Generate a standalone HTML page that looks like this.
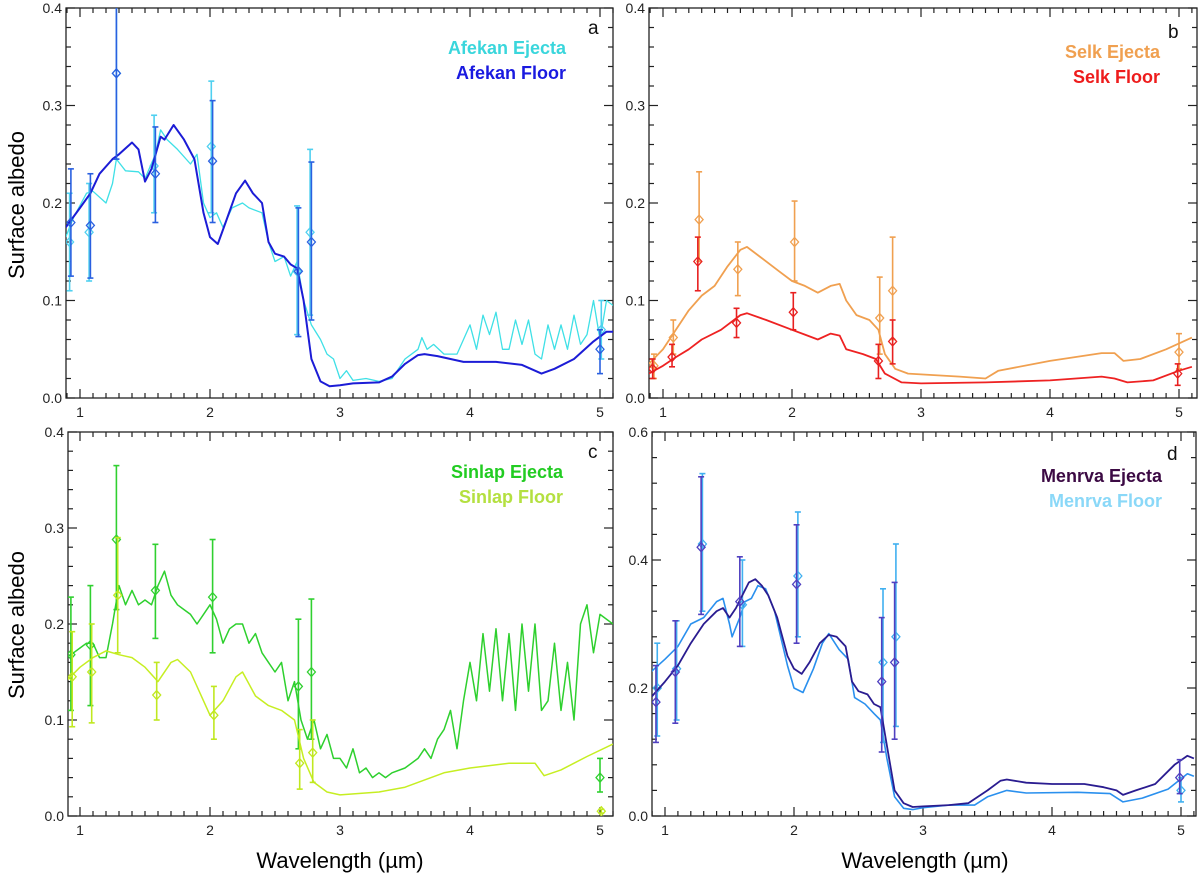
<!DOCTYPE html>
<html><head><meta charset="utf-8"><style>
html,body{margin:0;padding:0;background:#fff;}
svg{display:block;font-family:"Liberation Sans",sans-serif;}
</style></head><body>
<svg id="fig" width="1200" height="882" viewBox="0 0 1200 882" xmlns="http://www.w3.org/2000/svg">
<text x="24" y="205" font-size="22" text-anchor="middle" transform="rotate(-90 24 205)">Surface albedo</text>
<text x="24" y="625" font-size="22" text-anchor="middle" transform="rotate(-90 24 625)">Surface albedo</text>
<text x="340" y="868" font-size="22" text-anchor="middle">Wavelength (µm)</text>
<text x="925" y="868" font-size="22" text-anchor="middle">Wavelength (µm)</text>
</svg>
<script>
// ---- Panel a data ----
const aFloorWl=[0.89,1.0,1.08,1.15,1.25,1.3,1.4,1.45,1.5,1.55,1.62,1.65,1.72,1.8,1.88,1.95,2.0,2.06,2.12,2.2,2.27,2.33,2.4,2.45,2.5,2.57,2.62,2.67,2.72,2.78,2.85,2.92,3.0,3.1,3.3,3.4,3.5,3.6,3.65,3.75,3.95,4.2,4.4,4.5,4.55,4.65,4.8,4.95,5.05,5.1];
const aFloorVal=[0.175,0.195,0.21,0.23,0.245,0.25,0.262,0.255,0.222,0.235,0.268,0.265,0.28,0.265,0.245,0.19,0.165,0.158,0.18,0.21,0.223,0.21,0.2,0.16,0.148,0.145,0.137,0.133,0.1,0.04,0.017,0.012,0.013,0.015,0.016,0.022,0.035,0.044,0.045,0.043,0.037,0.037,0.034,0.028,0.025,0.03,0.04,0.058,0.068,0.068];
const aEjWl=[0.89,0.95,1.05,1.1,1.2,1.25,1.28,1.35,1.45,1.5,1.58,1.62,1.67,1.75,1.85,1.9,1.95,2.0,2.05,2.1,2.17,2.25,2.3,2.4,2.45,2.5,2.57,2.62,2.67,2.72,2.78,2.85,2.9,2.95,3.0,3.05,3.1,3.2,3.3,3.4,3.5,3.6,3.63,3.67,3.72,3.8,3.9,3.95,4.0,4.05,4.1,4.15,4.2,4.25,4.3,4.35,4.4,4.45,4.5,4.55,4.6,4.65,4.7,4.75,4.8,4.85,4.9,4.95,5.0,5.05,5.1];
const aEjVal=[0.165,0.185,0.21,0.212,0.2,0.22,0.245,0.233,0.232,0.225,0.25,0.275,0.265,0.255,0.24,0.25,0.2,0.185,0.19,0.175,0.195,0.2,0.195,0.19,0.16,0.14,0.145,0.125,0.14,0.1,0.075,0.06,0.045,0.04,0.02,0.028,0.018,0.02,0.017,0.02,0.04,0.05,0.062,0.05,0.055,0.045,0.045,0.06,0.075,0.05,0.085,0.065,0.088,0.05,0.05,0.08,0.055,0.08,0.045,0.04,0.075,0.05,0.075,0.05,0.085,0.055,0.065,0.1,0.06,0.1,0.095];
const aFloorErrWl=[0.93,1.08,1.28,1.58,2.02,2.68,2.78,5.0];
const aFloorErrVal=[0.18,0.177,0.333,0.23,0.243,0.13,0.16,0.05];
const aFloorErrLo=[0.125,0.123,0.245,0.18,0.18,0.063,0.08,0.025];
const aFloorErrHi=[0.235,0.23,0.42,0.278,0.305,0.195,0.242,0.07];
const aEjErrWl=[0.92,1.07,1.28,1.57,2.01,2.67,2.77,5.01];
const aEjErrVal=[0.16,0.17,0.333,0.238,0.258,0.13,0.17,0.07];
const aEjErrLo=[0.11,0.12,0.245,0.19,0.19,0.065,0.085,0.04];
const aEjErrHi=[0.21,0.22,0.42,0.29,0.325,0.197,0.255,0.1];
// ---- Panel b data ----
const bEjWl=[0.89,1.0,1.1,1.2,1.3,1.4,1.5,1.6,1.65,1.75,1.9,2.0,2.1,2.2,2.3,2.37,2.42,2.5,2.6,2.67,2.72,2.8,2.9,3.3,3.5,3.6,4.0,4.4,4.5,4.57,4.7,4.9,5.1];
const bEjVal=[0.035,0.05,0.07,0.09,0.105,0.115,0.135,0.152,0.155,0.145,0.13,0.12,0.115,0.108,0.115,0.117,0.1,0.085,0.08,0.07,0.045,0.03,0.025,0.022,0.02,0.028,0.038,0.046,0.046,0.038,0.04,0.05,0.062];
const bFloorWl=[0.89,1.0,1.1,1.2,1.3,1.45,1.6,1.65,1.8,2.0,2.1,2.2,2.3,2.37,2.42,2.55,2.65,2.72,2.85,3.0,3.5,4.0,4.4,4.5,4.6,4.8,5.0,5.1];
const bFloorVal=[0.025,0.033,0.042,0.05,0.06,0.07,0.085,0.087,0.08,0.07,0.065,0.06,0.066,0.064,0.05,0.045,0.04,0.025,0.016,0.015,0.016,0.018,0.022,0.02,0.016,0.018,0.028,0.032];
const bEjErrWl=[0.93,1.08,1.28,1.58,2.02,2.68,2.78,5.0];
const bEjErrVal=[0.033,0.062,0.183,0.132,0.16,0.082,0.11,0.047];
const bEjErrLo=[0.02,0.045,0.14,0.105,0.12,0.045,0.06,0.03];
const bEjErrHi=[0.045,0.08,0.232,0.16,0.202,0.124,0.165,0.066];
const bFloorErrWl=[0.92,1.07,1.27,1.57,2.01,2.67,2.78,4.99];
const bFloorErrVal=[0.03,0.042,0.14,0.077,0.088,0.038,0.058,0.025];
const bFloorErrLo=[0.02,0.032,0.11,0.062,0.07,0.02,0.035,0.013];
const bFloorErrHi=[0.04,0.055,0.165,0.092,0.108,0.055,0.08,0.035];
// ---- Panel c data ----
const cEjWl=[0.89,0.95,1.0,1.05,1.1,1.15,1.2,1.25,1.3,1.35,1.4,1.45,1.5,1.55,1.6,1.65,1.7,1.75,1.8,1.85,1.9,1.95,2.0,2.05,2.1,2.15,2.2,2.25,2.3,2.35,2.4,2.45,2.5,2.55,2.6,2.65,2.7,2.75,2.8,2.85,2.9,2.95,3.0,3.05,3.1,3.15,3.2,3.25,3.3,3.35,3.4,3.5,3.6,3.65,3.7,3.75,3.8,3.85,3.9,3.95,4.0,4.05,4.1,4.15,4.2,4.25,4.3,4.35,4.4,4.45,4.5,4.55,4.6,4.65,4.7,4.75,4.8,4.85,4.9,4.95,5.0,5.1];
const cEjVal=[0.165,0.17,0.175,0.18,0.18,0.165,0.165,0.2,0.24,0.22,0.235,0.22,0.225,0.22,0.24,0.255,0.23,0.22,0.215,0.21,0.2,0.21,0.22,0.205,0.18,0.195,0.2,0.2,0.18,0.19,0.17,0.16,0.15,0.16,0.12,0.14,0.1,0.08,0.1,0.07,0.085,0.06,0.06,0.05,0.07,0.045,0.05,0.04,0.045,0.04,0.045,0.05,0.06,0.07,0.06,0.08,0.09,0.11,0.07,0.12,0.16,0.12,0.19,0.13,0.195,0.12,0.19,0.11,0.2,0.13,0.2,0.11,0.12,0.18,0.11,0.16,0.1,0.2,0.22,0.17,0.21,0.2];
const cFloorWl=[0.89,1.0,1.1,1.2,1.3,1.4,1.5,1.6,1.7,1.75,1.85,1.95,2.0,2.1,2.2,2.25,2.35,2.45,2.55,2.65,2.72,2.8,2.9,3.0,3.3,3.5,3.8,4.0,4.3,4.5,4.57,4.7,4.9,5.1];
const cFloorVal=[0.14,0.155,0.165,0.172,0.168,0.165,0.155,0.14,0.16,0.163,0.15,0.12,0.105,0.12,0.145,0.15,0.125,0.115,0.11,0.1,0.06,0.035,0.025,0.022,0.025,0.03,0.045,0.05,0.055,0.055,0.042,0.048,0.062,0.075];
const cEjErrWl=[0.93,1.08,1.28,1.58,2.02,2.68,2.78,5.0];
const cEjErrVal=[0.168,0.178,0.288,0.235,0.228,0.135,0.15,0.04];
const cEjErrLo=[0.11,0.115,0.215,0.185,0.17,0.07,0.08,0.025];
const cEjErrHi=[0.228,0.24,0.365,0.283,0.288,0.205,0.226,0.06];
const cFloorErrWl=[0.94,1.09,1.29,1.59,2.03,2.69,2.79,5.01];
const cFloorErrVal=[0.145,0.15,0.23,0.126,0.105,0.055,0.066,0.005];
const cFloorErrLo=[0.093,0.097,0.17,0.1,0.08,0.028,0.035,0.003];
const cFloorErrHi=[0.192,0.2,0.29,0.16,0.135,0.09,0.1,0.007];
// ---- Panel d data ----
const dEjWl=[0.89,1.0,1.1,1.2,1.3,1.4,1.45,1.5,1.55,1.6,1.65,1.7,1.75,1.8,1.87,1.95,2.0,2.06,2.12,2.2,2.27,2.33,2.4,2.45,2.5,2.57,2.62,2.67,2.72,2.78,2.85,2.92,3.0,3.2,3.35,3.5,3.6,3.65,3.8,4.0,4.25,4.4,4.5,4.55,4.65,4.8,4.95,5.05,5.1];
const dEjVal=[0.185,0.21,0.235,0.27,0.3,0.32,0.325,0.31,0.325,0.345,0.365,0.37,0.36,0.345,0.31,0.25,0.23,0.222,0.24,0.27,0.283,0.28,0.265,0.21,0.195,0.19,0.175,0.17,0.11,0.04,0.02,0.014,0.015,0.017,0.02,0.04,0.055,0.057,0.052,0.05,0.05,0.045,0.04,0.033,0.04,0.05,0.08,0.094,0.09];
const dFloorWl=[0.89,1.0,1.1,1.2,1.3,1.4,1.45,1.5,1.52,1.58,1.62,1.67,1.72,1.78,1.85,1.95,2.0,2.07,2.15,2.22,2.27,2.35,2.42,2.47,2.55,2.62,2.67,2.72,2.78,2.85,2.92,3.0,3.2,3.4,3.5,3.65,3.8,4.2,4.45,4.55,4.7,4.9,5.05,5.1];
const dFloorVal=[0.225,0.245,0.265,0.3,0.31,0.335,0.34,0.3,0.28,0.31,0.335,0.34,0.36,0.355,0.32,0.235,0.2,0.193,0.23,0.27,0.285,0.26,0.245,0.185,0.175,0.16,0.15,0.09,0.03,0.012,0.01,0.013,0.017,0.017,0.03,0.04,0.036,0.037,0.035,0.022,0.028,0.042,0.066,0.062];
const dEjErrWl=[0.93,1.08,1.28,1.58,2.02,2.68,2.78,4.99];
const dEjErrVal=[0.178,0.225,0.42,0.335,0.362,0.21,0.24,0.06];
const dEjErrLo=[0.115,0.145,0.315,0.265,0.27,0.1,0.12,0.035];
const dEjErrHi=[0.235,0.305,0.53,0.405,0.455,0.31,0.365,0.088];
const dFloorErrWl=[0.94,1.09,1.29,1.6,2.03,2.69,2.79,5.0];
const dFloorErrVal=[0.2,0.23,0.425,0.33,0.375,0.24,0.28,0.04];
const dFloorErrLo=[0.125,0.15,0.32,0.265,0.28,0.115,0.14,0.022];
const dFloorErrHi=[0.27,0.305,0.535,0.4,0.475,0.355,0.425,0.06];
const xTickLabels=["1","2","3","4","5"];
const yTicksA=["0.0","0.1","0.2","0.3","0.4"];
const yTicksD=["0.0","0.2","0.4","0.6"];

const NS="http://www.w3.org/2000/svg";
const svg=document.getElementById('fig');
function mk(tag,attrs,parent){const e=document.createElementNS(NS,tag);for(const k in attrs)e.setAttribute(k,attrs[k]);(parent||svg).appendChild(e);return e;}

function panel(cfg){
  const g=mk('g',{});
  
  
  const L=cfg.l,R=cfg.r,T=cfg.t,B=cfg.b;
  const x1px=cfg.x1, sc=cfg.sc;
  const X=w=>x1px+(w-1)*sc;
  const Y=v=>B-(v/cfg.ymax)*(B-T);
  const clip='clip-'+cfg.id;
  const cp=mk('clipPath',{id:clip},g);mk('rect',{x:L,y:T,width:R-L,height:B-T},cp);
  // frame
  const fr=mk('rect',{x:L,y:T,width:R-L,height:B-T,fill:'none',stroke:'#222','stroke-width':1.3},g);
  
  
  // x ticks
  for(let k=9;k<=51;k++){const w=k/10;const px=X(w);if(px<L||px>R)continue;const maj=(k%10===0);const len=maj?9:5;
    mk('line',{x1:px,y1:B,x2:px,y2:B-len,stroke:'#222','stroke-width':1.2},g);
    mk('line',{x1:px,y1:T,x2:px,y2:T+len,stroke:'#222','stroke-width':1.2},g);}
  xTickLabels.forEach((s,i)=>{const t=mk('text',{x:X(i+1),y:B+19,'font-size':14,'text-anchor':'middle',fill:'#222'},g);t.textContent=s;
    
    });
  // y ticks
  const nMinor=Math.round(cfg.ymax/cfg.minor);
  for(let k=0;k<=nMinor;k++){const v=k*cfg.minor;const py=Y(v);const maj=Math.abs((v/cfg.major)-Math.round(v/cfg.major))<1e-6;const len=maj?9:5;
    mk('line',{x1:L,y1:py,x2:L+len,y2:py,stroke:'#222','stroke-width':1.2},g);
    mk('line',{x1:R,y1:py,x2:R-len,y2:py,stroke:'#222','stroke-width':1.2},g);}
  cfg.yLabels.forEach((s,i)=>{const t=mk('text',{x:L-4,y:Y(i*cfg.major)+5,'font-size':14,'text-anchor':'end',fill:'#222'},g);t.textContent=s;
    
    });
  // series
  cfg.series.forEach(s=>{
    const d=s.wl.map((w,i)=>(i?'L':'M')+X(w).toFixed(1)+' '+Y(s.val[i]).toFixed(1)).join(' ');
    const p=mk('path',{d:d,fill:'none',stroke:s.color,'stroke-width':s.sw||1.6,'clip-path':'url(#'+clip+')','stroke-linejoin':'round'},g);
    
    
    s.ew.forEach((w,i)=>{const px=X(w);const eg=mk('g',{'clip-path':'url(#'+clip+')',stroke:s.ecolor,'stroke-width':1.6,fill:'none'},g);
      
      
      mk('line',{x1:px,y1:Y(s.elo[i]),x2:px,y2:Y(s.ehi[i])},eg);
      mk('line',{x1:px-3,y1:Y(s.elo[i]),x2:px+3,y2:Y(s.elo[i])},eg);
      mk('line',{x1:px-3,y1:Y(s.ehi[i]),x2:px+3,y2:Y(s.ehi[i])},eg);
      const py=Y(s.ev[i]);
      mk('path',{d:`M${px} ${py-4.5} L${px+4} ${py} L${px} ${py+4.5} L${px-4} ${py} Z`,'stroke-width':1.3},eg);});
  });
  // legend
  cfg.legend.forEach((l,i)=>{const t=mk('text',{x:cfg.legX,y:cfg.legY+i*25,'font-size':18,'font-weight':'bold','text-anchor':'end',fill:l[1]},g);t.textContent=l[0];
    
    });
  const lt=mk('text',{x:cfg.letX,y:cfg.letY,'font-size':19,fill:'#111'},g);lt.textContent=cfg.letter;
  
  
}

panel({id:'a',name:'panel-a-afekan',l:66,r:613,t:8,b:398,x1:80,sc:130,ymax:0.4,major:0.1,minor:0.02,yLabels:yTicksA,
  series:[
    {name:'afekan-ejecta',color:'#3fe0e6',wl:aEjWl,val:aEjVal,ecolor:'#4fd0f0',ew:aEjErrWl,ev:aEjErrVal,elo:aEjErrLo,ehi:aEjErrHi,sw:1.3},
    {name:'afekan-floor',color:'#1c1cd6',wl:aFloorWl,val:aFloorVal,ecolor:'#2a60e0',ew:aFloorErrWl,ev:aFloorErrVal,elo:aFloorErrLo,ehi:aFloorErrHi,sw:2}],
  legend:[['Afekan Ejecta','#3ad6dc'],['Afekan Floor','#1a1ae0']],legX:566,legY:54,letter:'a',letX:588,letY:34});
panel({id:'b',name:'panel-b-selk',l:649,r:1197,t:8,b:398,x1:663,sc:129,ymax:0.4,major:0.1,minor:0.02,yLabels:yTicksA,
  series:[
    {name:'selk-ejecta',color:'#f0a050',wl:bEjWl,val:bEjVal,ecolor:'#f0a050',ew:bEjErrWl,ev:bEjErrVal,elo:bEjErrLo,ehi:bEjErrHi,sw:1.8},
    {name:'selk-floor',color:'#ee2222',wl:bFloorWl,val:bFloorVal,ecolor:'#e82020',ew:bFloorErrWl,ev:bFloorErrVal,elo:bFloorErrLo,ehi:bFloorErrHi,sw:1.8}],
  legend:[['Selk Ejecta','#f0a050'],['Selk Floor','#ee1c1c']],legX:1160,legY:58,letter:'b',letX:1168,letY:38});
panel({id:'c',name:'panel-c-sinlap',l:68,r:613,t:432,b:816,x1:80,sc:130,ymax:0.4,major:0.1,minor:0.02,yLabels:yTicksA,
  series:[
    {name:'sinlap-ejecta',color:'#2ed02e',wl:cEjWl,val:cEjVal,ecolor:'#30d030',ew:cEjErrWl,ev:cEjErrVal,elo:cEjErrLo,ehi:cEjErrHi,sw:1.5},
    {name:'sinlap-floor',color:'#c6ee22',wl:cFloorWl,val:cFloorVal,ecolor:'#c0e820',ew:cFloorErrWl,ev:cFloorErrVal,elo:cFloorErrLo,ehi:cFloorErrHi,sw:1.5}],
  legend:[['Sinlap Ejecta','#22cc22'],['Sinlap Floor','#b4e040']],legX:563,legY:478,letter:'c',letX:588,letY:458});
panel({id:'d',name:'panel-d-menrva',l:652,r:1196,t:432,b:816,x1:665,sc:129,ymax:0.6,major:0.2,minor:0.04,yLabels:yTicksD,
  series:[
    {name:'menrva-floor',color:'#2a90ee',wl:dFloorWl,val:dFloorVal,ecolor:'#40b0f0',ew:dFloorErrWl,ev:dFloorErrVal,elo:dFloorErrLo,ehi:dFloorErrHi,sw:1.6},
    {name:'menrva-ejecta',color:'#2a1c90',wl:dEjWl,val:dEjVal,ecolor:'#5040c0',ew:dEjErrWl,ev:dEjErrVal,elo:dEjErrLo,ehi:dEjErrHi,sw:1.8}],
  legend:[['Menrva Ejecta','#3c0a44'],['Menrva Floor','#8ad8f8']],legX:1162,legY:482,letter:'d',letX:1167,letY:460});
</script>
</body></html>
